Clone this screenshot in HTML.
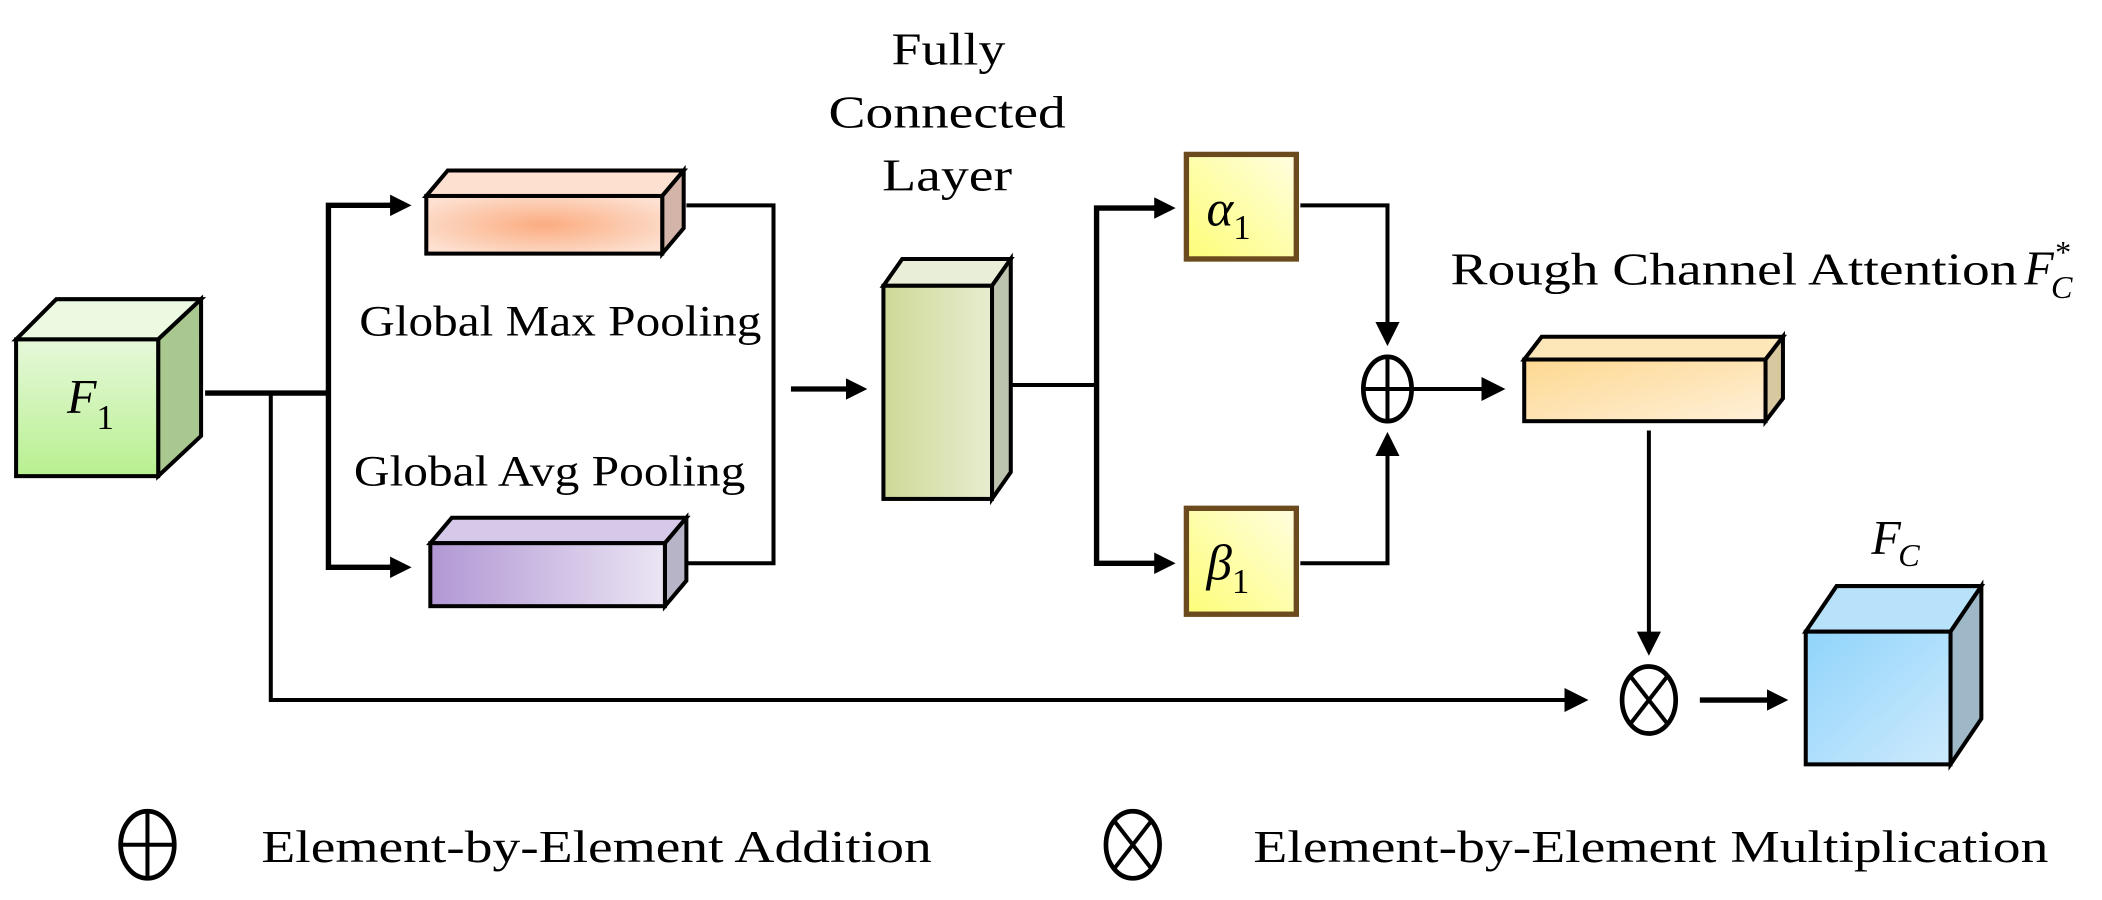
<!DOCTYPE html>
<html><head><meta charset="utf-8"><style>html,body{margin:0;padding:0;background:#fff}svg{display:block}</style></head><body>
<svg width="2102" height="900" viewBox="0 0 1568 671" xmlns="http://www.w3.org/2000/svg" style="font-family:'Liberation Serif',serif">
<defs>
<linearGradient id="gF1" x1="0" y1="0" x2="0" y2="1"><stop offset="0" stop-color="#e6f8da"/><stop offset="1" stop-color="#b8f090"/></linearGradient>
<radialGradient id="gMax" cx="0.5" cy="0.5" r="0.6"><stop offset="0" stop-color="#fbac80"/><stop offset="1" stop-color="#fde0d0"/></radialGradient>
<linearGradient id="gAvg" x1="0" y1="0" x2="1" y2="0"><stop offset="0" stop-color="#b197d4"/><stop offset="1" stop-color="#ebe5f4"/></linearGradient>
<linearGradient id="gFC" x1="0" y1="0" x2="1" y2="0"><stop offset="0" stop-color="#ced996"/><stop offset="1" stop-color="#e8ecd0"/></linearGradient>
<linearGradient id="gAB" x1="0" y1="1" x2="1" y2="0"><stop offset="0" stop-color="#fdfd78"/><stop offset="1" stop-color="#fffee0"/></linearGradient>
<linearGradient id="gR" x1="0" y1="0" x2="1" y2="1"><stop offset="0" stop-color="#fdd890"/><stop offset="1" stop-color="#fff0d8"/></linearGradient>
<linearGradient id="gFc" x1="0" y1="0" x2="1" y2="1"><stop offset="0" stop-color="#90d4fb"/><stop offset="1" stop-color="#cdeafc"/></linearGradient>
<marker id="ah" markerWidth="4" markerHeight="4" refX="3" refY="2" orient="auto" markerUnits="strokeWidth"><path d="M0,0 L4,2 L0,4 z" fill="#000"/></marker>
<marker id="ah2" markerWidth="6" markerHeight="6" refX="5" refY="3" orient="auto" markerUnits="strokeWidth"><path d="M0,0 L6,3 L0,6 z" fill="#000"/></marker>
</defs>
<g stroke="#000" stroke-width="3" stroke-linejoin="miter">
<polygon points="12,253 42,223 150,223 118,253" fill="#ecfae2"/>
<polygon points="118,253 150,223 150,325 118,355" fill="#a8c890"/>
<rect x="12" y="253" width="106" height="102" fill="url(#gF1)"/>
<polygon points="318,146 334,127 510,127 494,146" fill="#fde0d0"/>
<polygon points="494,146 510,127 510,170 494,189" fill="#d4b4a8"/>
<rect x="318" y="146" width="176" height="43" fill="url(#gMax)"/>
<polygon points="321,405 337,386 512,386 496,405" fill="#d6c8e8"/>
<polygon points="496,405 512,386 512,433 496,452" fill="#b8b4c8"/>
<rect x="321" y="405" width="175" height="47" fill="url(#gAvg)"/>
<polygon points="659,213 673,193 754,193 740,213" fill="#e8eed8"/>
<polygon points="740,213 754,193 754,352 740,372" fill="#bcc4b0"/>
<rect x="659" y="213" width="81" height="159" fill="url(#gFC)"/>
<polygon points="1137,268 1150,251 1330,251 1317,268" fill="#fde6b8"/>
<polygon points="1317,268 1330,251 1330,297 1317,314" fill="#d8c8a0"/>
<rect x="1137" y="268" width="180" height="46" fill="url(#gR)"/>
<polygon points="1347,471 1370,437 1478,437 1455,471" fill="#b8e2fa"/>
<polygon points="1455,471 1478,437 1478,536 1455,570" fill="#9fb8c8"/>
<rect x="1347" y="471" width="108" height="99" fill="url(#gFc)"/>
</g>
<rect x="885" y="115" width="82" height="78" fill="url(#gAB)" stroke="#6b4a1e" stroke-width="4"/>
<rect x="885" y="379" width="82" height="79" fill="url(#gAB)" stroke="#6b4a1e" stroke-width="4"/>
<g stroke="#000" fill="none">
<polyline points="153,293 245,293" stroke-width="4"/>
<polyline points="300,153 245,153 245,423 300,423" stroke-width="4"/>
<line x1="290" y1="153" x2="303" y2="153" stroke-width="4" marker-end="url(#ah)"/>
<line x1="290" y1="423" x2="303" y2="423" stroke-width="4" marker-end="url(#ah)"/>
<polyline points="512,153 577,153 577,420 512,420" stroke-width="3"/>
<line x1="590" y1="290" x2="643" y2="290" stroke-width="4" marker-end="url(#ah)"/>
<line x1="754" y1="287" x2="818" y2="287" stroke-width="3"/>
<polyline points="873,155 818,155 818,420 873,420" stroke-width="4"/>
<line x1="860" y1="155" x2="873" y2="155" stroke-width="4" marker-end="url(#ah)"/>
<line x1="860" y1="420" x2="873" y2="420" stroke-width="4" marker-end="url(#ah)"/>
<polyline points="970,153 1035,153 1035,255" stroke-width="3" marker-end="url(#ah2)"/>
<polyline points="970,420 1035,420 1035,325" stroke-width="3" marker-end="url(#ah2)"/>
<ellipse cx="1035" cy="290" rx="18" ry="24" stroke-width="3.5"/>
<line x1="1017" y1="290" x2="1053" y2="290" stroke-width="3"/>
<line x1="1035" y1="266" x2="1035" y2="314" stroke-width="3"/>
<line x1="1053" y1="290" x2="1120" y2="290" stroke-width="3" marker-end="url(#ah2)"/>
<line x1="1230" y1="321" x2="1230" y2="486" stroke-width="3" marker-end="url(#ah2)"/>
<polyline points="202,293 202,522 1182,522" stroke-width="3" marker-end="url(#ah2)"/>
<ellipse cx="1230" cy="522" rx="20" ry="25" stroke-width="3.5"/>
<line x1="1216" y1="504" x2="1244" y2="540" stroke-width="3"/>
<line x1="1244" y1="504" x2="1216" y2="540" stroke-width="3"/>
<line x1="1268" y1="522" x2="1330" y2="522" stroke-width="4" marker-end="url(#ah)"/>
<ellipse cx="110" cy="630" rx="20" ry="25" stroke-width="3.5"/>
<line x1="90" y1="630" x2="130" y2="630" stroke-width="3"/>
<line x1="110" y1="605" x2="110" y2="655" stroke-width="3"/>
<ellipse cx="845" cy="630" rx="20" ry="25" stroke-width="3.5"/>
<line x1="831" y1="612" x2="859" y2="648" stroke-width="3"/>
<line x1="859" y1="612" x2="831" y2="648" stroke-width="3"/>
</g>
<g fill="#000" font-size="34">
<text x="50" y="308" font-size="36" font-style="italic">F<tspan font-size="26" font-style="normal" dy="12">1</tspan></text>
<text x="268" y="250" font-size="32" textLength="300" lengthAdjust="spacingAndGlyphs">Global Max Pooling</text>
<text x="264" y="362" font-size="32" textLength="292" lengthAdjust="spacingAndGlyphs">Global Avg Pooling</text>
<text x="665" y="48" textLength="85" lengthAdjust="spacingAndGlyphs">Fully</text>
<text x="618" y="95" textLength="177" lengthAdjust="spacingAndGlyphs">Connected</text>
<text x="658" y="142" textLength="97" lengthAdjust="spacingAndGlyphs">Layer</text>
<text x="900" y="168" font-size="38" font-style="italic">α<tspan font-size="26" font-style="normal" dy="10">1</tspan></text>
<text x="900" y="432" font-size="38" font-style="italic">β<tspan font-size="26" font-style="normal" dy="10">1</tspan></text>
<text x="1082" y="212" textLength="423" lengthAdjust="spacingAndGlyphs">Rough Channel Attention</text>
<text x="1510" y="212" font-size="36" font-style="italic">F</text>
<text x="1530" y="222" font-size="24" font-style="italic">C</text>
<text x="1533" y="196" font-size="24">*</text>
<text x="1396" y="413" font-size="36" font-style="italic">F</text>
<text x="1416" y="422" font-size="24" font-style="italic">C</text>
<text x="195" y="643" textLength="500" lengthAdjust="spacingAndGlyphs">Element-by-Element Addition</text>
<text x="935" y="643" textLength="593" lengthAdjust="spacingAndGlyphs">Element-by-Element Multiplication</text>
</g>
</svg>
</body></html>
